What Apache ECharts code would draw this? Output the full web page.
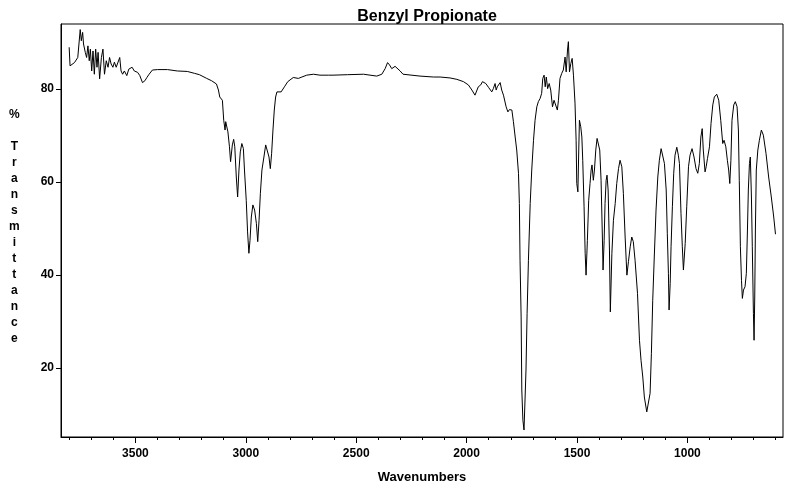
<!DOCTYPE html>
<html>
<head>
<meta charset="utf-8">
<script src="https://cdn.jsdelivr.net/npm/echarts@6/dist/echarts.min.js"></script>
<style>
html,body{margin:0;padding:0;background:#fff;}
#c{width:800px;height:484px;}
</style>
</head>
<body>
<div id="c"></div>
<script>
const title = "Benzyl Propionate";
const xName = "Wavenumbers";
const yNameText = "%\n\nT\nr\na\nn\ns\nm\ni\nt\nt\na\nn\nc\ne";
const xMajorTicks = [1000, 1500, 2000, 2500, 3000, 3500];
const xMinorTicks = [600,700,800,900,1000,1100,1200,1300,1400,1500,1600,1700,1800,1900,2000,2100,2200,2300,2400,2500,2600,2700,2800,2900,3000,3100,3200,3300,3400,3500,3600,3700,3800];
const yTicks = [20, 40, 60, 80];

const wavenumbers = [
3800,3796,3787,3776,3768,3761,3750,3745,3739,3735,3727,3721,3715,3709,3704,3698,3692,3686,3680,3674,
3669,3662,3654,3647,3640,3632,3624,3617,3610,3602,3595,3587,3580,3571,3565,3558,3550,3539,3530,3523,
3515,3505,3490,3480,3468,3457,3448,3438,3423,3400,3355,3310,3265,3233,3210,3177,3155,3133,3124,3118,
3106,3100,3094,3091,3081,3074,3069,3061,3055,3050,3043,3037,3031,3025,3018,3011,3006,2998,2992,2986,
2981,2975,2968,2960,2952,2946,2940,2934,2927,2918,2910,2903,2895,2889,2883,2877,2871,2865,2859,2850,
2840,2825,2810,2785,2762,2746,2724,2694,2664,2626,2605,2540,2467,2407,2384,2369,2358,2349,2339,2324,
2301,2288,2211,2150,2120,2075,2044,2014,1992,1976,1962,1954,1947,1936,1928,1921,1913,1901,1894,1886,
1879,1871,1866,1861,1848,1841,1833,1826,1821,1813,1806,1795,1788,1780,1773,1765,1761,1758,1753,1750,
1745,1740,1735,1731,1726,1720,1712,1705,1697,1690,1682,1675,1667,1660,1655,1649,1644,1639,1633,1626,
1619,1611,1604,1596,1589,1584,1577,1569,1562,1554,1549,1543,1539,1534,1528,1522,1516,1509,1504,1501,
1496,1492,1489,1483,1478,1474,1468,1463,1459,1453,1447,1441,1436,1432,1426,1421,1415,1409,1403,1397,
1391,1385,1382,1377,1373,1368,1364,1359,1353,1349,1342,1335,1327,1320,1312,1305,1297,1290,1282,1274,
1267,1259,1252,1245,1237,1226,1217,1210,1202,1195,1184,1177,1169,1163,1157,1150,1142,1134,1127,1119,
1111,1104,1096,1091,1086,1083,1078,1074,1068,1062,1056,1048,1041,1036,1029,1023,1018,1010,1003,995,
988,979,970,961,953,946,939,933,928,920,915,909,900,893,885,878,867,858,849,840,
834,826,819,813,808,803,798,790,783,775,769,765,760,755,751,746,739,733,728,724,
719,715,710,706,701,698,695,692,688,681,674,665,656,644,632,620,609,601
];
const transmittance = [
89.0,85.0,84.8,85.7,85.5,86.8,92.8,90.4,92.2,89.7,87.9,86.8,89.3,86.1,88.6,83.9,88.2,83.2,88.6,84.7,
87.9,82.2,86.8,88.6,83.2,86.1,84.7,86.8,85.4,84.7,85.8,84.7,85.0,86.8,83.9,83.2,83.9,82.9,84.3,83.9,
84.7,83.9,83.6,82.9,81.4,81.8,82.5,83.2,84.1,84.2,84.2,83.9,83.8,83.4,83.1,82.3,81.8,81.1,79.8,78.3,
77.6,73.3,71.2,73.0,70.8,67.6,64.4,68.0,69.2,67.6,61.1,56.8,62.6,66.5,68.3,67.2,62.6,56.1,49.3,44.7,
47.5,52.5,55.1,54.0,51.1,47.2,51.8,57.6,62.6,65.4,68.0,67.6,65.4,62.9,66.2,71.2,75.5,78.3,79.4,79.1,
79.4,80.5,81.6,82.5,82.3,82.6,83.0,83.2,83.0,83.0,83.0,83.1,83.2,82.8,83.2,84.4,85.7,85.2,84.4,84.9,
83.9,83.2,82.8,82.6,82.6,82.4,82.1,81.6,80.9,79.8,78.7,79.1,80.5,80.9,81.6,81.9,81.2,80.4,80.1,79.4,
80.1,81.2,79.8,80.5,81.4,79.8,78.7,78.3,76.2,75.1,75.6,75.5,73.0,69.7,66.9,61.9,55.4,43.2,31.0,15.3,
8.8,6.7,13.8,19.6,31.8,43.2,55.4,62.6,69.0,73.3,76.2,77.3,78.0,79.1,82.3,83.0,80.5,82.6,80.1,81.2,
79.8,76.2,77.6,78.0,75.5,77.6,82.3,83.4,84.1,86.9,83.7,88.4,90.2,83.7,85.5,86.6,83.0,77.0,69.0,59.7,
57.9,66.9,73.3,71.9,69.7,64.7,54.7,44.7,40.0,47.5,56.1,59.7,62.6,63.7,60.4,62.6,66.9,69.4,69.7,66.9,
60.4,48.2,41.1,47.5,55.4,60.4,61.5,58.3,45.4,32.1,44.7,51.8,55.4,59.7,62.9,64.7,63.3,57.6,48.2,40.0,
42.9,46.1,48.2,47.2,43.2,36.1,26.0,21.7,18.1,13.8,10.6,10.8,14.6,23.2,34.6,43.9,54.0,61.1,64.7,67.2,
66.9,64.0,58.3,49.0,40.4,32.5,38.2,46.1,54.7,61.9,65.8,67.5,65.8,64.0,53.3,46.1,41.1,46.8,54.7,63.3,
65.8,67.2,65.4,62.9,61.9,64.0,69.7,71.5,66.9,62.2,63.3,65.1,67.6,72.6,76.6,78.3,78.9,77.6,73.3,68.3,
69.0,67.6,64.7,62.6,59.7,64.7,73.3,76.6,77.3,76.2,71.2,60.4,46.1,38.9,35.0,36.8,37.5,40.4,49.7,58.3,
64.0,65.4,56.8,46.1,31.8,26.0,35.3,49.7,62.6,66.9,69.0,71.2,70.1,66.2,61.1,56.8,52.5,48.8
];

const seriesData = wavenumbers.map((w, i) => [w, transmittance[i]]);
const FONT = '"Liberation Sans", Arial, sans-serif';

const chart = echarts.init(document.getElementById('c'), null, {renderer: 'canvas'});
chart.setOption({
  animation: false,
  backgroundColor: '#ffffff',
  title: {
    text: title,
    left: 422,
    top: 4,
    textAlign: 'center',
    textStyle: {fontFamily: FONT, fontSize: 16, fontWeight: 'bold', color: '#000'}
  },
  grid: {left: 61, right: 17, top: 24, bottom: 47, containLabel: false, outerBoundsMode: 'none', show: true, borderColor: '#000', borderWidth: 1, backgroundColor: 'transparent'},
  xAxis: [{
    type: 'value', min: 567, max: 3837, inverse: true,
    name: xName, nameLocation: 'middle', nameGap: 34,
    nameTextStyle: {fontFamily: FONT, fontSize: 13, fontWeight: 'bold', color: '#000'},
    axisLine: {show: true, lineStyle: {color: '#000', width: 1}},
    axisTick: {show: true, length: 6, customValues: xMajorTicks, lineStyle: {color: '#000'}},
    axisLabel: {customValues: xMajorTicks, margin: 11, formatter: (v) => String(v), fontFamily: FONT, fontSize: 12, fontWeight: 'bold', color: '#000'},
    splitLine: {show: false}
  }, {
    type: 'value', min: 567, max: 3837, inverse: true, position: 'bottom',
    axisLine: {show: false},
    axisTick: {show: true, length: 3, customValues: xMinorTicks, lineStyle: {color: '#000'}},
    axisLabel: {show: false},
    splitLine: {show: false}
  }],
  yAxis: {
    type: 'value', min: 5.2, max: 94,
    axisLine: {show: true, lineStyle: {color: '#000', width: 1}},
    axisTick: {show: true, length: 5, customValues: yTicks, lineStyle: {color: '#000'}},
    axisLabel: {customValues: yTicks, margin: 7, formatter: (v) => String(v), fontFamily: FONT, fontSize: 12, fontWeight: 'bold', color: '#000'},
    splitLine: {show: false}
  },
  graphic: [{
    type: 'text', left: 9, top: 107,
    style: {text: yNameText, fontFamily: FONT, fontSize: 12, fontWeight: 'bold', fill: '#000', lineHeight: 16, textAlign: 'center'}
  }],
  series: [{
    type: 'line', xAxisIndex: 0, data: seriesData, showSymbol: false, symbol: 'none',
    lineStyle: {color: '#000', width: 1}, smooth: false
  }]
});
</script>
</body>
</html>
